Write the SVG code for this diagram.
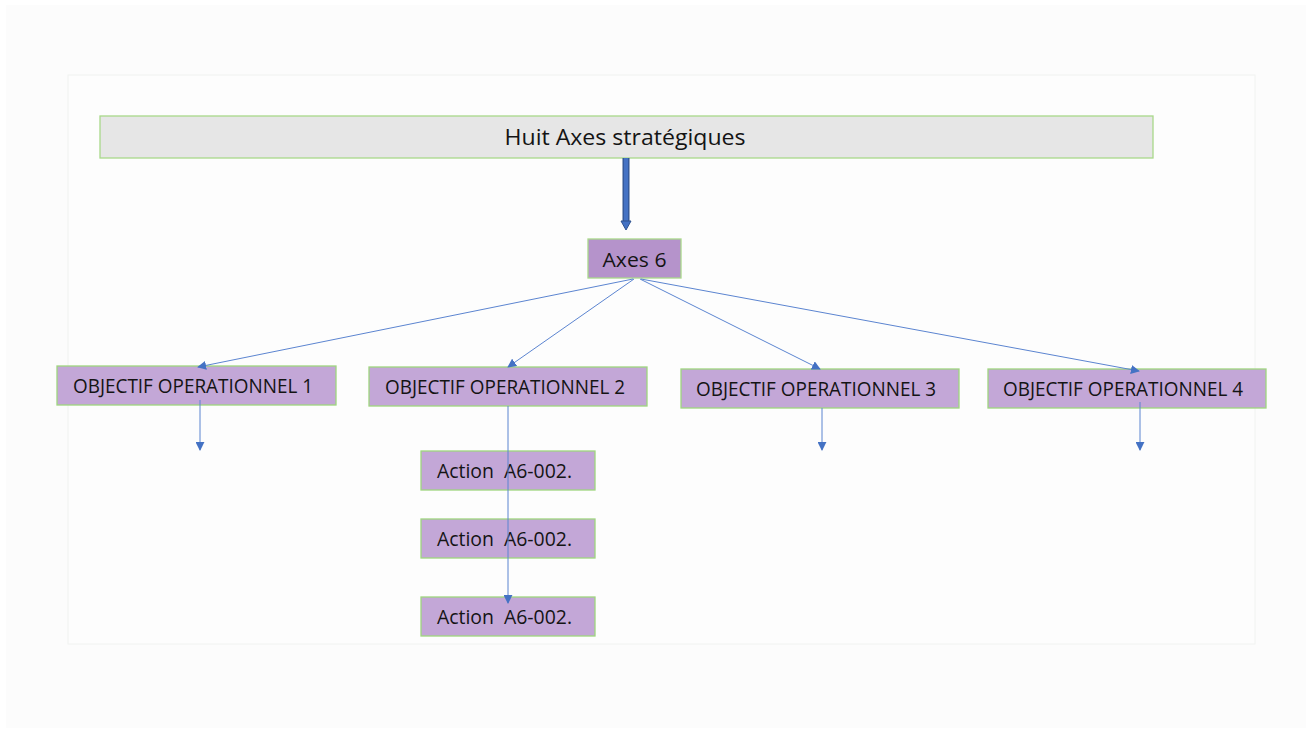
<svg xmlns="http://www.w3.org/2000/svg" width="1309" height="731" viewBox="0 0 1309 731">
<style>
.t{font-family:"Open Sans","Liberation Sans",sans-serif;fill:#141414;}
.oo{fill:#c3a7d7;stroke:#9fd67f;stroke-width:1.3;}
.act{fill:#c3a7d7;stroke:#9fd67f;stroke-width:1.3;}
.c{stroke:#5b84d0;stroke-width:1;fill:none;marker-end:url(#ah);}
</style>
<defs>
<marker id="ah" viewBox="0 0 10 10" refX="9" refY="5" markerWidth="9" markerHeight="9" markerUnits="userSpaceOnUse" orient="auto">
<path d="M0,0 L10,5 L0,10 z" fill="#4472c4"/>
</marker>
</defs>
<rect x="0" y="0" width="1309" height="731" fill="#ffffff"/>
<rect x="6" y="5" width="1300" height="723" fill="#fcfcfc"/>
<rect x="68" y="75" width="1187" height="569" fill="#fdfdfd" stroke="#f0f2f0" stroke-width="1"/>

<g id="top">
<rect x="100" y="116" width="1053" height="42" fill="#e6e6e6" stroke="#a9d98a" stroke-width="1.3"/>
<text class="t" x="625" y="145" font-size="21.5" text-anchor="middle" textLength="241" lengthAdjust="spacingAndGlyphs">Huit Axes stratégiques</text>
</g>

<g id="axe6">
<rect x="588" y="239" width="93" height="39" fill="#b593cb" stroke="#a9d98a" stroke-width="1.3"/>
<text class="t" x="634.5" y="267" font-size="20.5" text-anchor="middle" textLength="64" lengthAdjust="spacingAndGlyphs">Axes 6</text>
</g>

<g id="oo1">
<rect class="oo" x="57" y="366" width="279" height="39"/>
<text class="t" x="73" y="393" font-size="20" textLength="240" lengthAdjust="spacingAndGlyphs">OBJECTIF OPERATIONNEL 1</text>
</g>
<g id="oo2">
<rect class="oo" x="369" y="367" width="278" height="39"/>
<text class="t" x="385" y="394" font-size="20" textLength="240" lengthAdjust="spacingAndGlyphs">OBJECTIF OPERATIONNEL 2</text>
</g>
<g id="oo3">
<rect class="oo" x="681" y="369" width="278" height="39"/>
<text class="t" x="696" y="396" font-size="20" textLength="240" lengthAdjust="spacingAndGlyphs">OBJECTIF OPERATIONNEL 3</text>
</g>
<g id="oo4">
<rect class="oo" x="988" y="369" width="278" height="39"/>
<text class="t" x="1003" y="396" font-size="20" textLength="240" lengthAdjust="spacingAndGlyphs">OBJECTIF OPERATIONNEL 4</text>
</g>

<g id="action1">
<rect class="act" x="421" y="451" width="174" height="39"/>
<text class="t" x="437" y="478" font-size="19.5" textLength="135" lengthAdjust="spacingAndGlyphs" xml:space="preserve">Action  A6-002.</text>
</g>
<g id="action2">
<rect class="act" x="421" y="519" width="174" height="39"/>
<text class="t" x="437" y="546" font-size="19.5" textLength="135" lengthAdjust="spacingAndGlyphs" xml:space="preserve">Action  A6-002.</text>
</g>
<g id="action3">
<rect class="act" x="421" y="597" width="174" height="39"/>
<text class="t" x="437" y="624" font-size="19.5" textLength="135" lengthAdjust="spacingAndGlyphs" xml:space="preserve">Action  A6-002.</text>
</g>

<g id="connectors">
<path d="M626,158 L626,222" stroke="#2f528f" stroke-width="7" fill="none"/>
<path d="M626,158 L626,222" stroke="#4472c4" stroke-width="4.5" fill="none"/>
<path d="M621,221 L631,221 L626,230 z" fill="#4472c4" stroke="#2f528f" stroke-width="1"/>
<line class="c" x1="633" y1="279" x2="198" y2="367"/>
<line class="c" x1="634" y1="279" x2="508" y2="367"/>
<line class="c" x1="640" y1="279" x2="820" y2="369"/>
<line class="c" x1="641" y1="279" x2="1139" y2="371"/>
<line class="c" x1="200" y1="400" x2="200" y2="450"/>
<line class="c" x1="508" y1="406" x2="508" y2="603"/>
<line class="c" x1="822" y1="408" x2="822" y2="450"/>
<line class="c" x1="1140" y1="402" x2="1140" y2="450"/>
</g>
</svg>
